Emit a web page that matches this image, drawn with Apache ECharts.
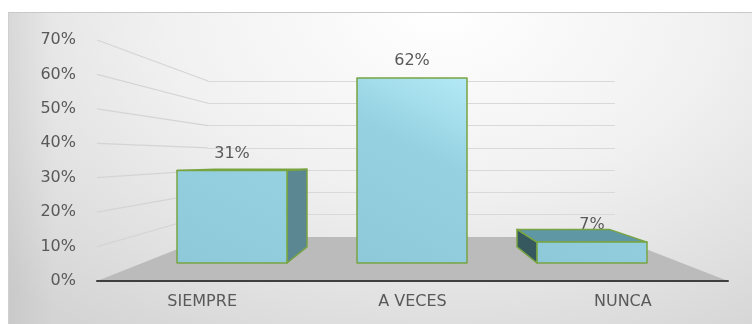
<!DOCTYPE html>
<html>
<head>
<meta charset="utf-8">
<script src="https://cdn.jsdelivr.net/npm/echarts@6/dist/echarts.min.js"></script>
<style>
  html, body { margin: 0; padding: 0; background: #ffffff; }
  #wrap { position: relative; width: 752px; height: 324px; overflow: hidden; }
  #panel {
    position: absolute; left: 8px; top: 12px; width: 744px; height: 312px;
    box-sizing: border-box;
    border-top: 1px solid #c8c8c8; border-left: 1px solid #cfcfcf;
    background:
      linear-gradient(to right, rgba(0,0,0,0.05) 0px, rgba(0,0,0,0) 45px),
      radial-gradient(ellipse 82% 125% at 58% 0%, #ffffff 0%, #f1f1f1 45%, #d4d4d4 100%);
  }
  #chart { position: absolute; left: 0; top: 0; width: 752px; height: 324px; }
</style>
</head>
<body>
<div id="wrap"><div id="panel"></div><div id="chart"></div></div>
<script>
// Survey answers and their shares (%)
const categories = ['SIEMPRE', 'A VECES', 'NUNCA'];
const percentages = [31, 62, 7];

// Value axis range and gridline ticks
const axisMin = 0;
const axisMax = 70;
const axisStep = 10;
const wallTicks = [10, 20, 30, 40, 50, 60, 70];

// Styling
const FONT = 'DejaVu Sans';
const FONT_SIZE = 16;
const TEXT = '#595959';
const EDGE = '#78a441';
const SIDE_RIGHT = '#5b8792';
const SIDE_LEFT = '#36585f';
const TOP_FACE = '#5f97a4';
const BAR_RATIO = 110 / 180;   // bar width as share of a category band
const DEPTH = 0.84;            // perspective shrink of the bar's back face
const HORIZON = 0.52;          // eye level as share of bar-grid height

function renderBar(params, api) {
  const cs = params.coordSys;
  const vx = cs.x + cs.width / 2;
  const vy = cs.y + cs.height * HORIZON;
  const cat = api.value(0);
  const val = api.value(1);
  const top = api.coord([cat, val]);
  const base = api.coord([cat, axisMin]);
  const ceil = api.coord([cat, axisMax]);
  const half = api.size([1, 0])[0] * BAR_RATIO / 2;
  const x0 = top[0] - half, x1 = top[0] + half;
  const yt = top[1], yb = base[1];
  const back = p => [vx + (p[0] - vx) * DEPTH, vy + (p[1] - vy) * DEPTH];
  const FTL = [x0, yt], FTR = [x1, yt], FBL = [x0, yb], FBR = [x1, yb];
  const edge = { stroke: EDGE, lineWidth: 1.5, lineJoin: 'round' };
  const children = [];

  // value label sits behind the top face, as in a 3-D column
  children.push({
    type: 'text',
    style: {
      text: val + '%', x: top[0], y: yt - 9,
      align: 'center', verticalAlign: 'bottom',
      fill: TEXT, font: FONT_SIZE + 'px "' + FONT + '"'
    }
  });
  if (x1 < vx) {
    children.push({ type: 'polygon', shape: { points: [FTR, back(FTR), back(FBR), FBR] },
      style: Object.assign({ fill: SIDE_RIGHT }, edge) });
  } else if (x0 > vx) {
    children.push({ type: 'polygon', shape: { points: [FTL, back(FTL), back(FBL), FBL] },
      style: Object.assign({ fill: SIDE_LEFT }, edge) });
  }
  if (yt > vy) {
    children.push({ type: 'polygon', shape: { points: [FTL, FTR, back(FTR), back(FTL)] },
      style: Object.assign({ fill: TOP_FACE }, edge) });
  }
  children.push({
    type: 'rect',
    shape: { x: x0, y: yt, width: x1 - x0, height: yb - yt },
    style: Object.assign({
      fill: {
        type: 'linear', global: true,
        x: x0, y: yb, x2: x1, y2: ceil[1],
        colorStops: [
          { offset: 0, color: '#8ec9da' },
          { offset: 0.55, color: '#95d1e1' },
          { offset: 1, color: '#bcf0fc' }
        ]
      }
    }, edge)
  });
  return { type: 'group', children: children };
}

const chart = echarts.init(document.getElementById('chart'), null, { renderer: 'canvas' });

chart.setOption({
  backgroundColor: 'transparent',
  animation: false,
  grid: [
    { left: 97, right: 24, top: 40, bottom: 43 },   // front plane: value labels, category axis
    { left: 142, right: 70, top: 54, bottom: 61 },  // bar fronts
    { left: 208, right: 137, top: 81, bottom: 87 }  // back wall
  ],
  xAxis: [
    {
      gridIndex: 0, type: 'category', data: categories,
      axisLine: { lineStyle: { color: '#3f3f3f', width: 2 } },
      axisTick: { show: false },
      axisLabel: { color: TEXT, fontFamily: FONT, fontSize: FONT_SIZE, margin: 13 }
    },
    { gridIndex: 1, type: 'category', data: categories, show: false },
    { gridIndex: 2, type: 'value', min: 0, max: 1, show: false },
    { gridIndex: 0, type: 'value', min: 0, max: 1, show: false, position: 'top' }
  ],
  yAxis: [
    {
      gridIndex: 0, type: 'value', min: axisMin, max: axisMax, interval: axisStep,
      axisLine: { show: false }, axisTick: { show: false }, splitLine: { show: false },
      axisLabel: { formatter: '{value}%', color: TEXT, fontFamily: FONT, fontSize: FONT_SIZE, margin: 21 }
    },
    { gridIndex: 1, type: 'value', min: axisMin, max: axisMax, show: false },
    {
      gridIndex: 2, type: 'value', min: axisMin, max: axisMax, interval: axisStep,
      axisLine: { show: false }, axisTick: { show: false }, axisLabel: { show: false },
      splitLine: { showMinLine: false, lineStyle: { color: '#d9d9d9', width: 1 } }
    }
  ],
  series: [{
    type: 'custom',
    xAxisIndex: 1, yAxisIndex: 1,
    encode: { x: 0, y: 1 },
    data: categories.map((c, i) => [i, percentages[i]]),
    renderItem: renderBar,
    z: 5
  }]
});

// Floor and the side-wall gridlines join the front plane to the back wall
const front = (x, v) => chart.convertToPixel({ xAxisIndex: 3, yAxisIndex: 0 }, [x, v]);
const rear = (x, v) => chart.convertToPixel({ xAxisIndex: 2, yAxisIndex: 2 }, [x, v]);

const graphics = [{
  type: 'polygon', z: -5,
  shape: { points: [front(0, axisMin), rear(0, axisMin), rear(1, axisMin), front(1, axisMin)] },
  style: { fill: '#bbbbbb' }
}];
wallTicks.forEach(v => {
  graphics.push({
    type: 'polyline', z: -6,
    shape: { points: [front(0, v), rear(0, v)] },
    style: { stroke: '#d4d4d4', lineWidth: 1.2, fill: null }
  });
});
chart.setOption({ graphic: graphics });
</script>
</body>
</html>
